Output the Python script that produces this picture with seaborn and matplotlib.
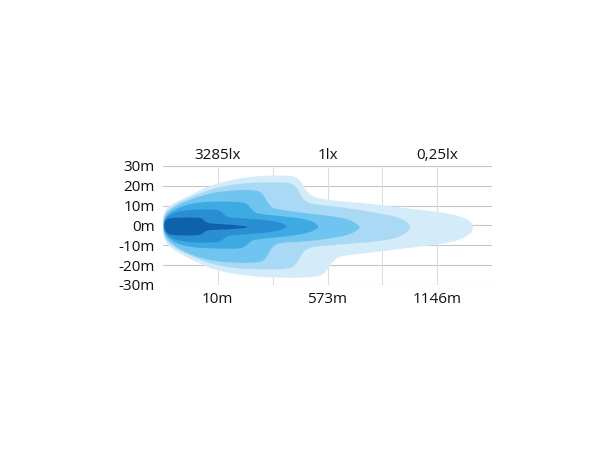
import numpy as np
import matplotlib
matplotlib.use("Agg")
import matplotlib.pyplot as plt
import seaborn as sns

# ─── Data ─────────────────────────────────────────────────────────────────────
# x in grid columns (0..6), y in metres; each lux zone = upper and lower edge
distance_labels = ["10m", "573m", "1146m"]
lux_labels = ["3285lx", "1lx", "0,25lx"]
label_cols = [1, 3, 5]
y_ticks = [30, 20, 10, 0, -10, -20, -30]
y_labels = ["30m", "20m", "10m", "0m", "-10m", "-20m", "-30m"]

zone1_upper = [(-0.02, 0), (0.0, 5), (0.06, 8.5), (0.2, 11.5), (0.4, 14), (0.65, 17.5), (0.95, 21),
               (1.4, 24), (1.9, 25.2), (2.35, 25.2), (2.48, 23.5), (2.58, 19), (2.68, 15.5),
               (2.85, 13.5), (3.2, 12.3), (3.8, 11), (4.4, 8.8), (5.0, 7), (5.4, 5), (5.62, 2),
               (5.66, -1)]
zone1_lower = [(-0.02, 0), (0.0, -5), (0.06, -9), (0.2, -12.5), (0.4, -15.5), (0.65, -19),
               (0.95, -22.5), (1.4, -25), (1.9, -26.2), (2.5, -26.4), (2.85, -25.8), (2.97, -23.5),
               (3.07, -19), (3.18, -16), (3.4, -14.8), (3.8, -13.7), (4.4, -11.5), (5.0, -9.8),
               (5.4, -7.5), (5.62, -4), (5.66, -1)]

zone2_upper = [(-0.01, 0), (0.01, 4.5), (0.07, 7.5), (0.2, 10.3), (0.4, 13), (0.65, 16), (0.95, 19),
               (1.4, 21.3), (1.9, 21.8), (2.3, 21.6), (2.42, 20), (2.5, 16), (2.58, 12.5),
               (2.72, 10.8), (3.05, 9.8), (3.5, 8.2), (3.9, 6.3), (4.25, 4.5), (4.45, 2),
               (4.52, -1)]
zone2_lower = [(-0.01, 0), (0.01, -4.5), (0.07, -8), (0.2, -11), (0.4, -14), (0.65, -17),
               (0.95, -20), (1.4, -21.8), (1.9, -22.2), (2.3, -21.8), (2.42, -20), (2.5, -16),
               (2.58, -12.5), (2.72, -10.8), (3.05, -10), (3.5, -9), (3.9, -8), (4.25, -6.5),
               (4.45, -3.5), (4.52, -1)]

zone3_upper = [(0, 0), (0.02, 4), (0.09, 7), (0.25, 10), (0.45, 12.5), (0.7, 15), (1.0, 17),
               (1.4, 18), (1.72, 17.8), (1.82, 16), (1.9, 12), (1.98, 9), (2.12, 8), (2.5, 6.5),
               (3.0, 5), (3.35, 3.5), (3.53, 1), (3.6, -1)]
zone3_lower = [(0, 0), (0.02, -4), (0.09, -7.5), (0.25, -11), (0.45, -14), (0.7, -16.5),
               (1.0, -18.2), (1.4, -18.9), (1.77, -18.6), (1.87, -17), (1.95, -12.5), (2.04, -9.5),
               (2.22, -8.5), (2.5, -8.3), (3.0, -6.8), (3.35, -5), (3.53, -2.8), (3.6, -1)]

zone4_upper = [(0.01, 0), (0.03, 3.5), (0.12, 6.5), (0.3, 9.2), (0.55, 11.3), (0.9, 12.1),
               (1.3, 12.1), (1.52, 11.4), (1.59, 9), (1.67, 6.5), (1.82, 5.6), (2.2, 4.6),
               (2.52, 3.6), (2.74, 2), (2.86, -0.5)]
zone4_lower = [(0.01, 0), (0.03, -3.5), (0.12, -7), (0.3, -9.6), (0.55, -11.1), (0.9, -11.6),
               (1.3, -11.8), (1.47, -11.2), (1.54, -9.5), (1.62, -7.5), (1.77, -6.8), (2.2, -5.6),
               (2.52, -4.5), (2.74, -2.8), (2.86, -0.5)]

zone5_upper = [(0.01, 0), (0.03, 3), (0.12, 5.5), (0.3, 7.3), (0.55, 8.1), (0.95, 8.1), (1.06, 7.2),
               (1.13, 5), (1.21, 4), (1.6, 3.4), (1.95, 2.6), (2.18, 1.2), (2.27, -0.5)]
zone5_lower = [(0.01, 0), (0.03, -3.2), (0.12, -6), (0.3, -7.8), (0.55, -8.6), (0.95, -8.6),
               (1.06, -8), (1.13, -6), (1.21, -5), (1.6, -4.3), (1.95, -3.5), (2.18, -2),
               (2.27, -0.5)]

zone6_upper = [(0.02, 0), (0.04, 2.5), (0.12, 3.8), (0.35, 4), (0.65, 4), (0.72, 3.5), (0.78, 1.6),
               (0.9, 0.9), (1.3, 0.3), (1.62, -0.8)]
zone6_lower = [(0.02, 0), (0.04, -3), (0.12, -4.7), (0.35, -5.1), (0.65, -4.9), (0.72, -4.2),
               (0.78, -2.6), (0.9, -2.2), (1.3, -1.8), (1.62, -0.8)]

zones = [
    (zone1_upper, zone1_lower, "#d4ecf9"),
    (zone2_upper, zone2_lower, "#a9d9f4"),
    (zone3_upper, zone3_lower, "#6fc5ef"),
    (zone4_upper, zone4_lower, "#3eaae3"),
    (zone5_upper, zone5_lower, "#2a8fd2"),
    (zone6_upper, zone6_lower, "#0e62ab"),
]


def outline(upper, lower, passes=3):
    """Closed outline, corners rounded (Chaikin)."""
    pts = np.array(upper + lower[::-1][1:-1], dtype=float)
    for _ in range(passes):
        nxt = np.roll(pts, -1, axis=0)
        q = 0.75 * pts + 0.25 * nxt
        r = 0.25 * pts + 0.75 * nxt
        pts = np.empty((len(q) * 2, 2))
        pts[0::2], pts[1::2] = q, r
    return pts


sns.set_style("white")
plt.rcParams["font.family"] = ["Open Sans", "DejaVu Sans"]

fig = plt.figure(figsize=(6.1, 4.5), dpi=100)
ax = fig.add_axes([163 / 610, 1 - 285 / 450, 329 / 610, 119 / 450])
ax.set_xlim(0, 6)
ax.set_ylim(-30, 30)

# grid
for y in y_ticks:
    ax.axhline(y, color="#c6c6c6", lw=0.8, zorder=0)
for x in range(1, 7):
    ax.axvline(x, color="#dedede", lw=0.8, zorder=0)

for upper, lower, color in zones:
    pts = outline(upper, lower)
    ax.fill(pts[:, 0], pts[:, 1], color=color, lw=0, zorder=2)

ax.set_yticks(y_ticks)
ax.set_yticklabels(y_labels, fontsize=11, color="#111111")
ax.set_xticks(label_cols)
ax.set_xticklabels(distance_labels, fontsize=11, color="#111111")
ax.tick_params(axis="y", length=0, pad=6)
ax.tick_params(axis="x", length=0, pad=5)
for x, lbl in zip(label_cols, lux_labels):
    ax.annotate(lbl, xy=(x, 1), xycoords=("data", "axes fraction"), xytext=(0, 10),
                textcoords="offset pixels", ha="center", va="center",
                fontsize=11, color="#111111")

sns.despine(ax=ax, left=True, bottom=True, top=True, right=True)
fig.savefig("out.png", dpi=100)
